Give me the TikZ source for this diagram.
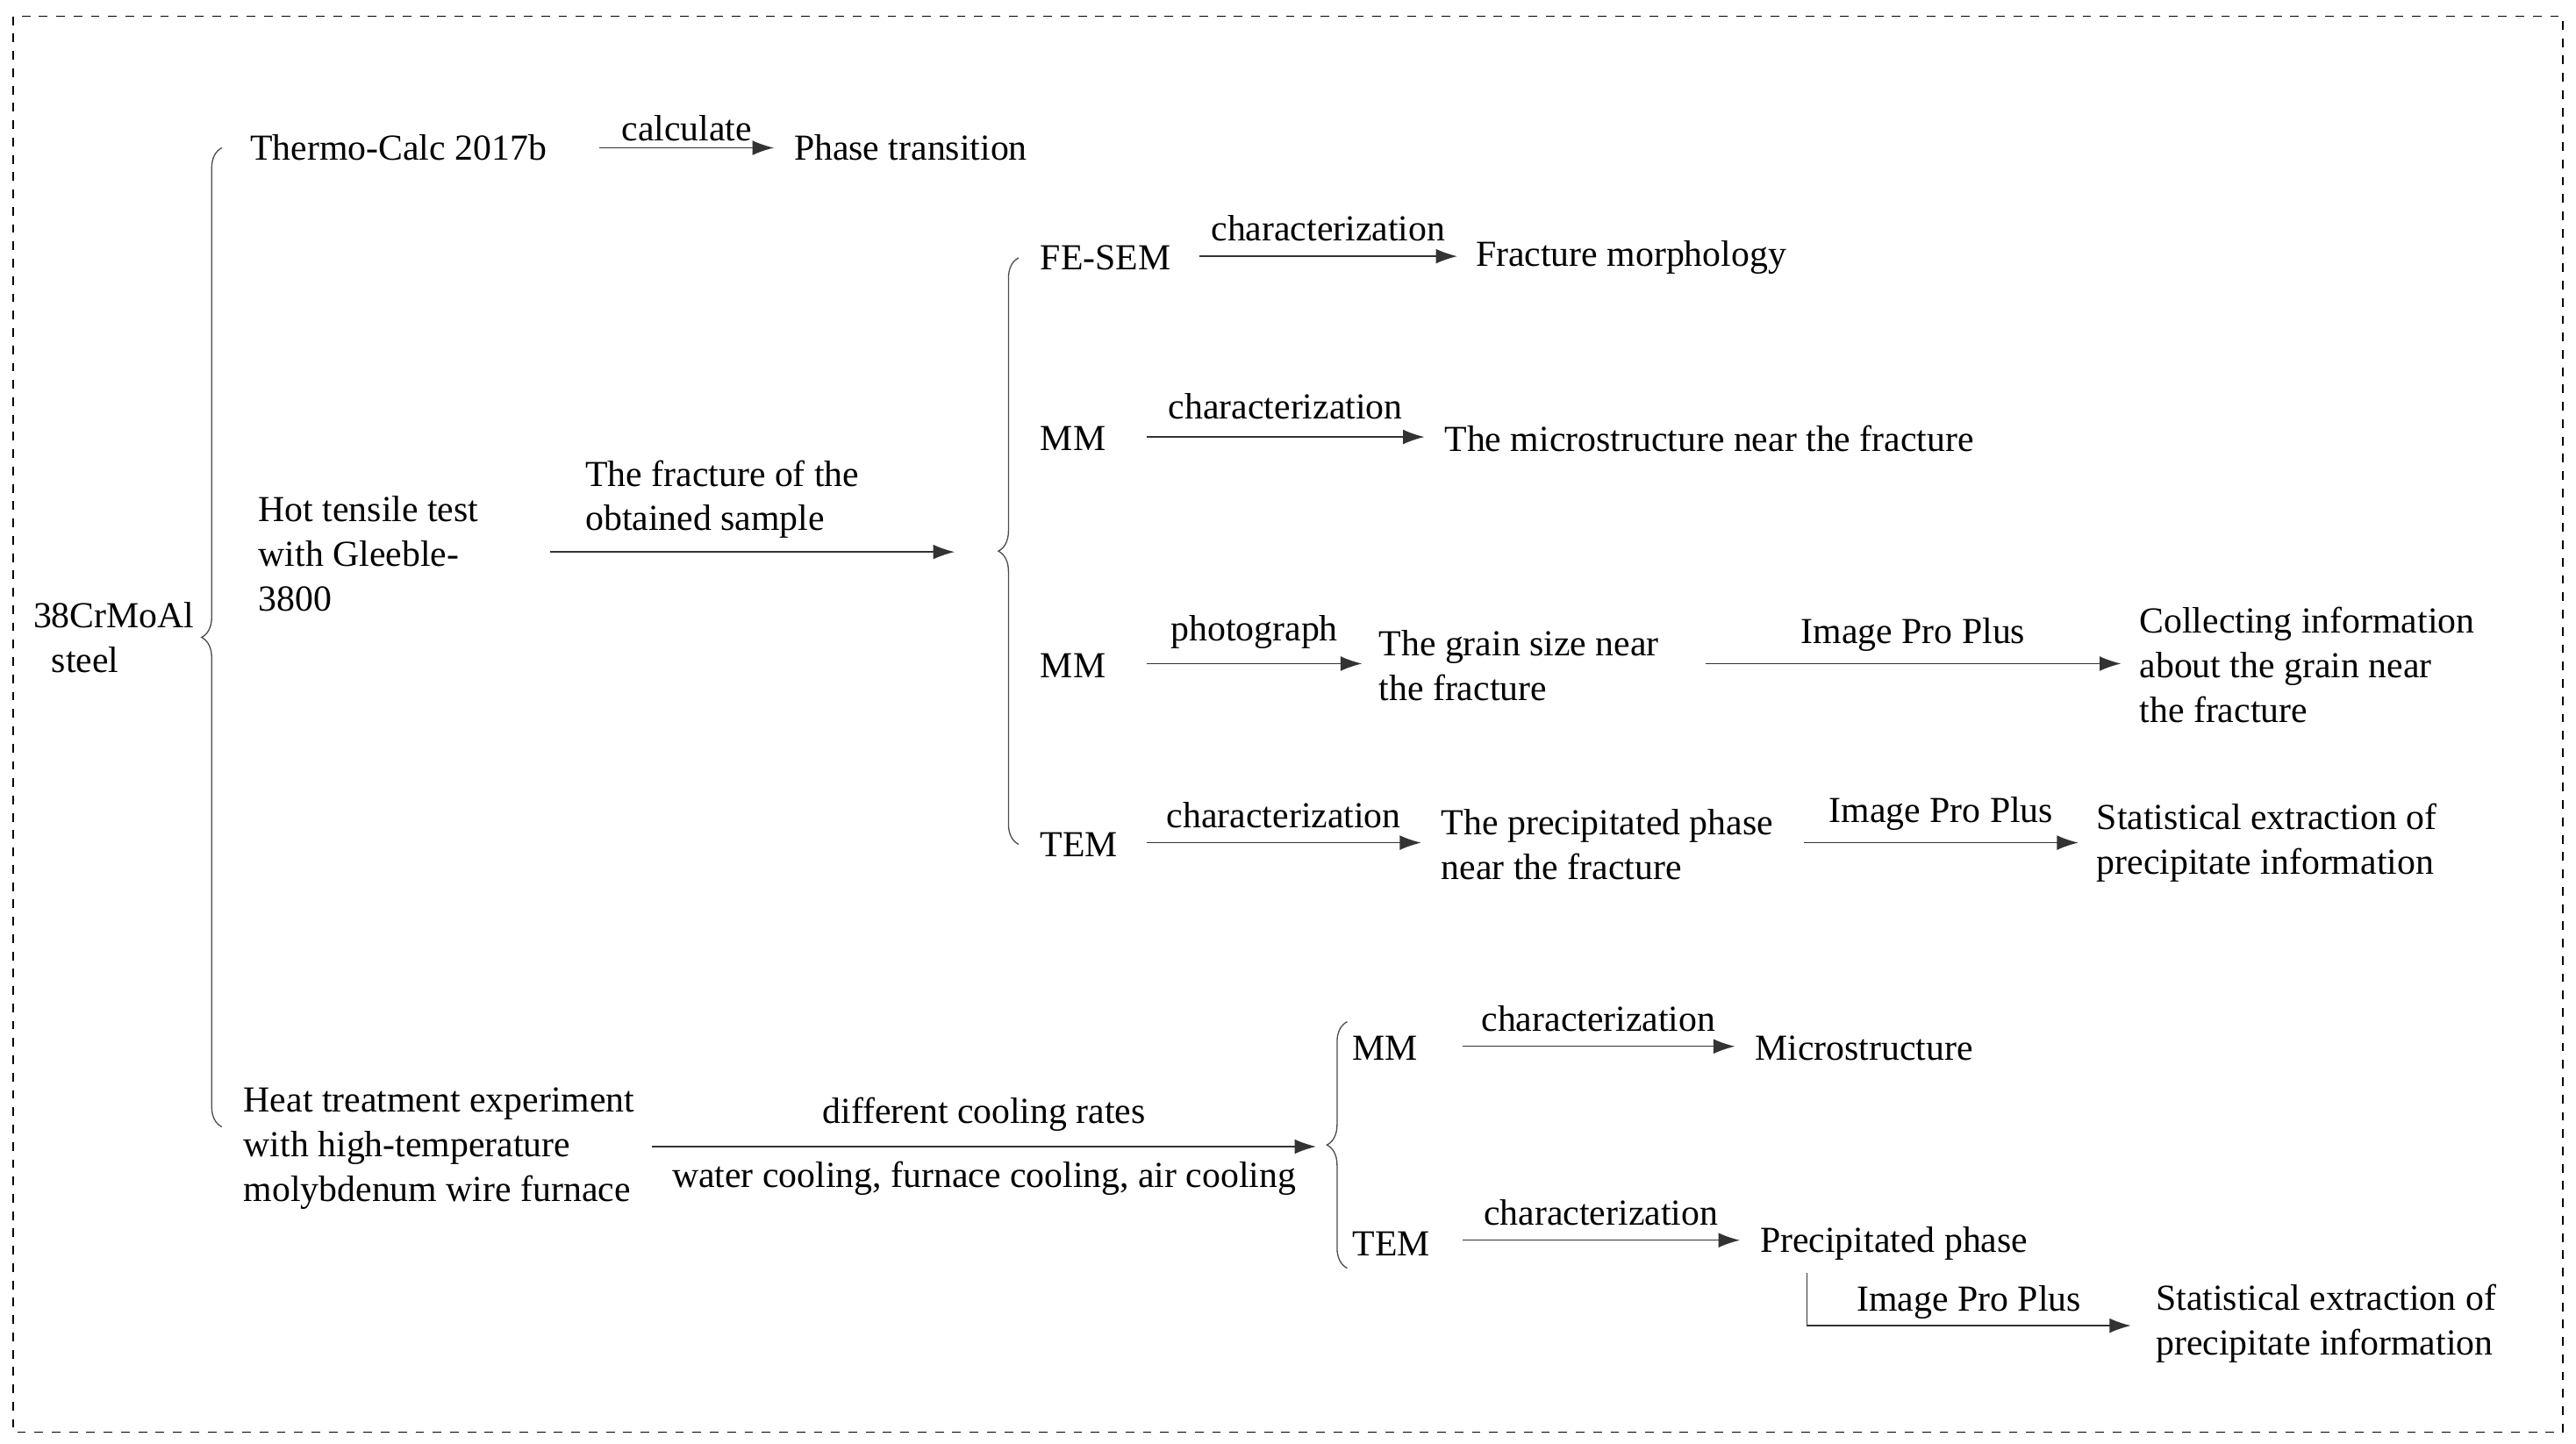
\documentclass[tikz,border=0pt]{standalone}
\usepackage{fontspec}
\setmainfont{Liberation Serif}
\usetikzlibrary{arrows.meta,decorations.pathreplacing,positioning}

\begin{document}
\begin{tikzpicture}
	[
	 	 %Styles
       x=0.02cm, y=-0.02cm,
       every node/.style={font=\fontsize{12.7pt}{15.5pt}\selectfont,text=black},
       txt/.style={rectangle,inner sep=0pt,anchor=west,align=left},
       lbl/.style={rectangle,inner sep=0pt},
       arr/.style={-{Latex[length=2.6mm,width=1.8mm]},draw=black!80,thin},
       brc/.style={decorate,decoration={brace,amplitude=7pt},black!70,thin}
    ]

    %Frame
    \useasboundingbox (0,0) rectangle (1568,879);
    \draw[dashed,thin] (8,10) rectangle (1560,872);

    %Root and braces
    \node (steel) [txt] at (20,388) {38CrMoAl\\\ \ steel};
    \draw[brc] (135,686) -- (135,90);
    \draw[brc] (620,514) -- (620,157);
    \draw[brc] (820,772) -- (820,622);

    %Level 1
    \node (thermo) [txt] at (152,90) {Thermo-Calc 2017b};
    \node (phase) [txt] at (483,90) {Phase transition};
    \node (hot) [txt] at (157,337) {Hot tensile test\\with Gleeble-\\3800};
    \node (heat) [txt] at (148,699) {Heat treatment experiment\\with high-temperature\\molybdenum wire furnace};

    %Level 2, fracture
    \node (fesem) [txt] at (633,157) {FE-SEM};
    \node (morph) [txt] at (898,157) {Fracture morphology};
    \node (mm1) [txt] at (633,267) {MM};
    \node (micro1) [txt] at (879,267) {The microstructure near the fracture};
    \node (mm2) [txt] at (633,405) {MM};
    \node (grain) [txt] at (839,405) {The grain size near\\the fracture};
    \node (collect) [txt] at (1302,405) {Collecting information\\about the grain near\\the fracture};
    \node (tem1) [txt] at (633,514) {TEM};
    \node (prec1) [txt] at (877,514) {The precipitated phase\\near the fracture};
    \node (stat1) [txt] at (1276,513) {Statistical extraction of\\precipitate information};

    %Level 2, heat treatment
    \node (mm3) [txt] at (823,638) {MM};
    \node (micro2) [txt] at (1068,638) {Microstructure};
    \node (tem2) [txt] at (823,757) {TEM};
    \node (prec2) [txt] at (1071,757) {Precipitated phase};
    \node (stat2) [txt] at (1312,806) {Statistical extraction of\\precipitate information};

    %Arrow ends
    \coordinate (a1) at (365,90);   \coordinate (b1) at (471,90);
    \coordinate (a2) at (335,336);  \coordinate (b2) at (581,336);
    \coordinate (a3) at (730,156);  \coordinate (b3) at (887,156);
    \coordinate (a4) at (698,266);  \coordinate (b4) at (867,266);
    \coordinate (a5) at (698,404);  \coordinate (b5) at (829,404);
    \coordinate (a6) at (1038,404); \coordinate (b6) at (1291,404);
    \coordinate (a7) at (698,513);  \coordinate (b7) at (865,513);
    \coordinate (a8) at (1098,513); \coordinate (b8) at (1265,513);
    \coordinate (a9) at (397,698);  \coordinate (b9) at (801,698);
    \coordinate (a10) at (890,637); \coordinate (b10) at (1056,637);
    \coordinate (a11) at (890,755); \coordinate (b11) at (1059,755);
    \coordinate (a12) at (1100,775); \coordinate (b12) at (1297,807);

    %Edges
    \draw[arr] (a1) -- node[lbl,above=2pt] {calculate} (b1);
    \draw[arr] (a2) -- (b2);
    \node[lbl,anchor=west,align=left] at (356,304) {The fracture of the\\obtained sample};
    \draw[arr] (a3) -- node[lbl,above=5pt] {characterization} (b3);
    \draw[arr] (a4) -- node[lbl,above=6pt] {characterization} (b4);
    \draw[arr] (a5) -- node[lbl,above=5pt] {photograph} (b5);
    \draw[arr] (a6) -- node[lbl,above=4pt] {Image Pro Plus} (b6);
    \draw[arr] (a7) -- node[lbl,above=5pt] {characterization} (b7);
    \draw[arr] (a8) -- node[lbl,above=4pt] {Image Pro Plus} (b8);
    \draw[arr] (a9) -- node[lbl,above=5pt] {different cooling rates}
                       node[lbl,below=5pt] {water cooling, furnace cooling, air cooling} (b9);
    \draw[arr] (a10) -- node[lbl,above=5pt] {characterization} (b10);
    \draw[arr] (a11) -- node[lbl,above=5pt] {characterization} (b11);
    \draw[arr] (a12) |- node[lbl,pos=0.75,above=2pt] {Image Pro Plus} (b12);
\end{tikzpicture}
\end{document}
